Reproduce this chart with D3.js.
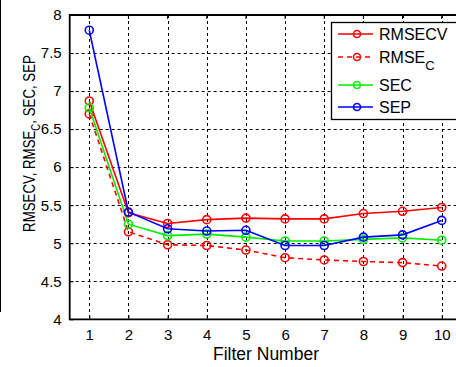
<!DOCTYPE html>
<html>
<head>
<meta charset="utf-8">
<script src="https://cdn.jsdelivr.net/npm/d3@7"></script>
<style>
  body { margin: 0; background: #fff; }
  svg { display: block; font-family: "Liberation Sans", Arial, sans-serif; }
</style>
</head>
<body>
<svg width="456" height="367"></svg>
<script>
// values
const filters = [1, 2, 3, 4, 5, 6, 7, 8, 9, 10];
const rmsecv = [6.87, 5.40, 5.26, 5.31, 5.33, 5.32, 5.32, 5.39, 5.42, 5.47];
const rmsec  = [6.70, 5.15, 4.98, 4.97, 4.91, 4.81, 4.78, 4.76, 4.745, 4.70];
const sec    = [6.78, 5.25, 5.10, 5.12, 5.08, 5.03, 5.03, 5.05, 5.07, 5.04];
const sep    = [7.80, 5.41, 5.19, 5.16, 5.17, 4.97, 4.97, 5.08, 5.11, 5.30];
const yTicks = [4, 4.5, 5, 5.5, 6, 6.5, 7, 7.5, 8];

const series = [
  {name: "RMSECV", sub: "", values: rmsecv, color: "#ff0000", dash: null},
  {name: "RMSE", sub: "C", values: rmsec, color: "#ff0000", dash: "5,4"},
  {name: "SEC", sub: "", values: sec, color: "#00ee00", dash: null},
  {name: "SEP", sub: "", values: sep, color: "#0000ff", dash: null}
];

const margin = {top: 15, left: 71, bottom: 47};
const width = 456, height = 367;

const svg = d3.select("svg");

const x = d3.scaleLinear().domain([0.5, 10.5]).range([69.7, 461.3]);
const y = d3.scaleLinear().domain([4, 8]).range([height - margin.bottom - 0.7, margin.top]);

// stray edge of neighbouring panel
svg.append("line")
  .attr("x1", 0.5).attr("x2", 0.5).attr("y1", 0).attr("y2", 312)
  .attr("stroke", "#000").attr("stroke-width", 1);

// grid
const grid = svg.append("g").attr("stroke", "#000").attr("stroke-width", 1).attr("stroke-dasharray", "3,3");
grid.selectAll(".gx").data(filters).join("line")
  .attr("x1", d => Math.round(x(d)) + 0.5).attr("x2", d => Math.round(x(d)) + 0.5)
  .attr("y1", y(8)).attr("y2", y(4));
grid.selectAll(".gy").data(yTicks.slice(1, -1)).join("line")
  .attr("x1", x(0.5)).attr("x2", width)
  .attr("y1", d => Math.round(y(d)) + 0.5).attr("y2", d => Math.round(y(d)) + 0.5);

// axes
const xAxis = g => g
  .attr("transform", `translate(0,${y(4)})`)
  .call(d3.axisBottom(x).tickValues(filters).tickSize(-4).tickPadding(10).tickFormat(d3.format("d")))
  .call(g => g.select(".domain").remove())
  .call(g => g.selectAll("text").attr("font-size", 15).attr("fill", "#000").attr("font-family", "Liberation Sans, Arial, sans-serif"));

const yAxis = g => g
  .attr("transform", `translate(${x(0.5)},0)`)
  .call(d3.axisLeft(y).tickValues(yTicks).tickSize(-4).tickPadding(8).tickFormat(d => d))
  .call(g => g.select(".domain").remove())
  .call(g => g.selectAll("text").attr("font-size", 15).attr("fill", "#000").attr("font-family", "Liberation Sans, Arial, sans-serif"));

svg.append("g").call(xAxis);
svg.append("g").call(yAxis);

// top ticks
svg.append("g").selectAll("line").data(filters).join("line")
  .attr("x1", d => x(d)).attr("x2", d => x(d))
  .attr("y1", y(8)).attr("y2", y(8) + 4)
  .attr("stroke", "#000");

// frame
svg.append("path")
  .attr("d", `M${width + 2},${y(8)}H${x(0.5)}V${y(4)}H${width + 2}`)
  .attr("fill", "none").attr("stroke", "#000").attr("stroke-width", 1.8);

// lines and markers
const line = d3.line().x((d, i) => x(filters[i])).y(d => y(d));

series.forEach(s => {
  const g = svg.append("g");
  g.append("path")
    .attr("d", line(s.values))
    .attr("fill", "none")
    .attr("stroke", s.color)
    .attr("stroke-width", 1.6)
    .attr("stroke-dasharray", s.dash);
  g.selectAll("circle").data(s.values).join("circle")
    .attr("cx", (d, i) => x(filters[i]))
    .attr("cy", d => y(d))
    .attr("r", 4)
    .attr("fill", "none")
    .attr("stroke", s.color)
    .attr("stroke-width", 1.6);
});

// labels
svg.append("text")
  .attr("x", 266).attr("y", 360)
  .attr("text-anchor", "middle")
  .attr("font-size", 17.5)
  .text("Filter Number");

// y label: tall, condensed glyphs
const ylg = svg.append("g").attr("transform", "translate(34.5,143.5) rotate(-90)");
const yl = ylg.append("text")
  .attr("text-anchor", "middle")
  .attr("font-size", 16.5);
yl.append("tspan").text("RMSECV, RMSE");
yl.append("tspan").attr("font-size", 12).attr("dy", 5).text("C");
yl.append("tspan").attr("dy", -5).text(", SEC, SEP");
const natural = yl.node().getBBox().width;
yl.attr("transform", `scale(${177 / natural},1)`);

// legend
const legend = svg.append("g").attr("transform", "translate(331,22)");
legend.append("rect")
  .attr("x", 0.5).attr("y", 0.5).attr("width", 140).attr("height", 97)
  .attr("fill", "#fff").attr("stroke", "#000").attr("stroke-width", 1.3);

const legY = [12, 35, 63, 85];
series.forEach((s, i) => {
  const g = legend.append("g").attr("transform", `translate(0,${legY[i]})`);
  g.append("line")
    .attr("x1", 7).attr("x2", 42)
    .attr("stroke", s.color).attr("stroke-width", 1.6)
    .attr("stroke-dasharray", s.dash);
  g.append("circle").attr("cx", 26).attr("r", 3.5)
    .attr("fill", "none").attr("stroke", s.color).attr("stroke-width", 1.6);
  const t = g.append("text").attr("x", 48).attr("y", 6).attr("font-size", 16);
  t.append("tspan").text(s.name);
  if (s.sub) t.append("tspan").attr("dy", 7).attr("font-size", 13).text(s.sub);
});
</script>
</body>
</html>
